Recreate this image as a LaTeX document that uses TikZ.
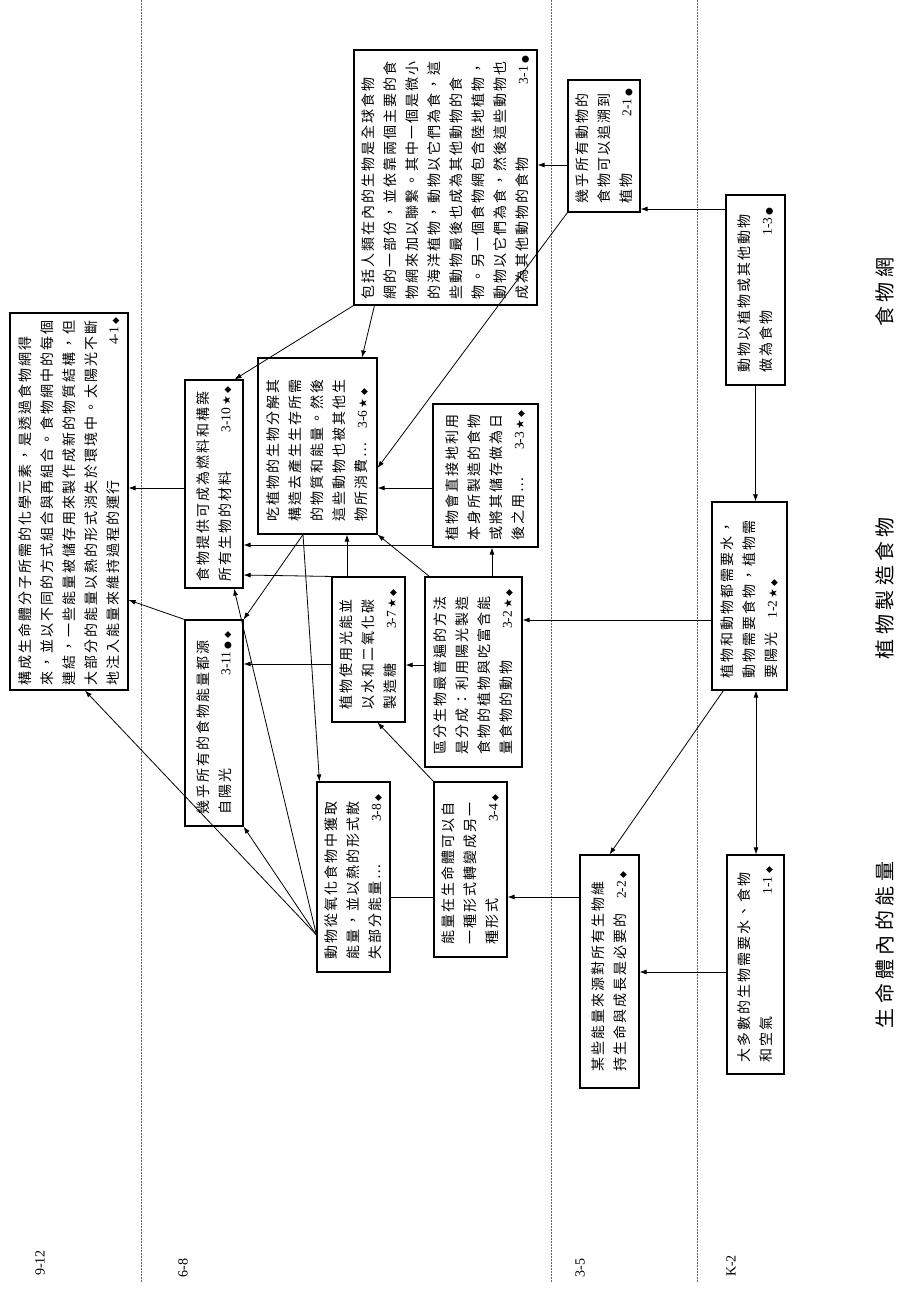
\documentclass[tikz,border=0pt]{standalone}
\usepackage{fontspec}
\setmainfont{Liberation Serif}
\newfontfamily\cjk[LetterSpace=14]{Noto Sans CJK TC}
\newfontfamily\cjkhead[LetterSpace=22]{Noto Sans CJK TC}
\newfontfamily\symfont{DejaVu Sans}
\usetikzlibrary{positioning, arrows.meta, calc}

% marks after each benchmark code
\newcommand{\symdia}{{\symfont\fontsize{9}{9}\selectfont ◆}}
\newcommand{\symstar}{{\symfont\fontsize{11}{11}\selectfont ★}}
\newcommand{\symdot}{{\symfont\fontsize{9}{9}\selectfont ●}}
\newcommand{\bmk}[1]{{\rmfamily\fontsize{13.5}{13.5}\selectfont #1}}
\newcommand{\vtext}[2]{\rotatebox{90}{\parbox{#1}{#2}}}

\begin{document}
\begin{tikzpicture}[
  x=1pt, y=-1pt,
  box/.style={draw, line width=1.1pt, inner sep=0pt,
    font=\cjk\fontsize{14}{22}\selectfont},
  arr/.style={line width=0.8pt, -{Latex[length=7pt,width=5pt]}},
  arrboth/.style={line width=0.8pt, {Latex[length=7pt,width=5pt]}-{Latex[length=7pt,width=5pt]}},
  link/.style={line width=0.8pt},
  band/.style={densely dotted, line width=0.5pt, black!60},
  grade/.style={rotate=90, font=\fontsize{14}{14}\selectfont},
  strand/.style={rotate=90, font=\cjkhead\fontsize{20}{20}\selectfont}
]
\useasboundingbox (0,0) rectangle (910,1289);

% grade bands
\draw[band] (141,0) -- (141,1282);
\draw[band] (551,0) -- (551,1282);
\draw[band] (697,0) -- (697,1282);
\node[grade] (g1) at (40,1263) {9-12};
\node[grade] (g2) at (183,1268) {6-8};
\node[grade] (g3) at (580,1268) {3-5};
\node[grade] (g4) at (731,1266) {K-2};

% strands
\node[strand] (s1) at (885,292) {食物網};
\node[strand] (s2) at (885,588) {植物製造食物};
\node[strand] (s3) at (885,945) {生命體內的能量};

% 9-12
\node[box, minimum width=118pt, minimum height=377pt] (n41) at (69,501.5) {\vtext{368pt}{構成生命體分子所需的化學元素，是透過食物網得\\來，並以不同的方式組合與再組合。食物網中的每個\\連結，一些能量被儲存用來製作成新的物質結構，但\\大部分的能量以熱的形式消失於環境中。太陽光不斷\\地注入能量來維持過程的運行\hfill\bmk{4-1}\,\symdia}};

% 6-8
\node[box, minimum width=58pt, minimum height=208pt] (n310) at (214,484) {\vtext{195pt}{食物提供可成為燃料和構築\\所有生物的材料\hfill\bmk{3-10}\,\symstar\,\symdia}};
\node[box, minimum width=58pt, minimum height=206pt] (n311) at (214,723) {\vtext{182pt}{幾乎所有的食物能量都源\\自陽光\hfill\bmk{3-11}\,\symdot\,\symdia}};
\node[box, minimum width=119pt, minimum height=176pt] (n36) at (317.5,446) {\vtext{150pt}{吃植物的生物分解其\\構造去產生生存所需\\的物質和能量。然後\\這些動物也被其他生\\物所消費…\quad\bmk{3-6}\,\symstar\,\symdia}};
\node[box, minimum width=73pt, minimum height=145pt] (n37) at (368.5,649.5) {\vtext{120pt}{植物使用光能並\\以水和二氧化碳\\製造糖\hfill\bmk{3-7}\,\symstar\,\symdia}};
\node[box, minimum width=73pt, minimum height=190pt] (n38) at (353.5,877) {\vtext{165pt}{動物從氧化食物中獲取\\能量，並以熱的形式散\\失部分能量…\hfill\bmk{3-8}\,\symdia}};
\node[box, minimum width=105pt, minimum height=143pt] (n33) at (485.5,475.5) {\vtext{130pt}{植物會直接地利用\\本身所製造的食物\\或將其儲存做為日\\後之用…\hfill\bmk{3-3}\,\symstar\,\symdia}};
\node[box, minimum width=97pt, minimum height=190pt] (n32) at (473.5,672) {\vtext{165pt}{區分生物最普遍的方法\\是分成：利用陽光製造\\食物的植物與吃富含能\\量食物的動物\hfill\bmk{3-2}\,\symstar\,\symdia}};
\node[box, minimum width=73pt, minimum height=175pt] (n34) at (470.5,869.5) {\vtext{150pt}{能量在生命體可以自\\一種形式轉變成另一\\種形式\hfill\bmk{3-4}\,\symdia}};
\node[box, minimum width=183pt, minimum height=255pt] (n31) at (445.5,177.5) {\vtext{243pt}{包括人類在內的生物是全球食物\\網的一部份，並依靠兩個主要的食\\物網來加以聯繫。其中一個是微小\\的海洋植物，動物以它們為食，這\\些動物最後也成為其他動物的食\\物。另一個食物網包含陸地植物，\\動物以它們為食，然後這些動物也\\成為其他動物的食物\hfill\bmk{3-1}\,\symdot}};

% 3-5
\node[box, minimum width=72pt, minimum height=132pt] (n21) at (604,146) {\vtext{115pt}{幾乎所有動物的\\食物可以追溯到\\植物\hfill\bmk{2-1}\,\symdot}};
\node[box, minimum width=59pt, minimum height=233pt] (n22) at (609.5,971.5) {\vtext{200pt}{某些能量來源對所有生物維\\持生命與成長是必要的\hfill\bmk{2-2}\,\symdia}};

% K-2
\node[box, minimum width=59pt, minimum height=190pt] (n13) at (755.5,290) {\vtext{165pt}{動物以植物或其他動物\\做為食物\hfill\bmk{1-3}\,\symdot}};
\node[box, minimum width=75pt, minimum height=188pt] (n12) at (749.5,596) {\vtext{165pt}{植物和動物都需要水，\\動物需要食物，植物需\\要陽光\quad\bmk{1-2}\,\symstar\,\symdia}};
\node[box, minimum width=57pt, minimum height=219pt] (n11) at (755.5,964.5) {\vtext{195pt}{大多數的生物需要水、食物\\和空氣\hfill\bmk{1-1}\,\symdia}};

% connectors
\draw[arr] (n13.west |- 0,209) -- (n21.east |- 0,209);
\draw[arr] (n13.south) -- (n13.south |- n12.north);
\draw[arr] (n12.west |- 0,620) -- (n32.east |- 0,620);
\draw[arr] ($(n12.south west)+(12,0)$) -- (n22.north);
\draw[arrboth] (n12.south -| 756,0) -- (n11.north -| 756,0);
\draw[arr] (n11.west |- 0,972) -- (n22.east |- 0,972);
\draw[arr] (n22.west |- 0,897) -- (n34.east |- 0,897);
\draw[link] (n34.west |- 0,897) -- (n38.east |- 0,897);
\draw[arr] (n34.north west) -- ($(n37.south)+(9,0)$);
\draw[arr] (n32.west |- 0,665) -- (n37.east |- 0,665);
\draw[arr] (n32.north -| 492,0) -- (n33.south -| 492,0);
\draw[arr] ($(n32.north west)+(5,0)$) -- (n36.south east);
\draw[arr] (n33.west |- 0,488) -- (n36.east |- 0,488);
\draw[arr] (n33.west |- 0,545) -- (n310.east |- 0,545);
\draw[arr] (n21.west |- 0,165) -- (n31.east |- 0,165);
\draw[arr] (n21.south west) -- (n36.east |- 0,468);
\draw[arr] ($(n31.south west)+(21,0)$) -- (n36.north -| 362,0);
\draw[arr] (n31.south west) -- ($(n310.north east)+(-9,0)$);
\draw[arr] (n37.north -| 347,0) -- (n36.south -| 347,0);
\draw[arr] (n37.north west) -- (n310.east |- 0,575);
\draw[arr] (n37.west |- 0,664) -- (n311.east |- 0,664);
\draw[arr] (n36.south -| 303,0) -- (n311.north east);
\draw[arr] (n36.south -| 303,0) -- ($(n38.north west)+(3,0)$);
\draw[arr] (n310.west |- 0,488) -- (n41.east |- 0,488);
\draw[arr] (n311.north west) -- (n41.east |- 0,600);
\draw[arr] (n38.west |- 0,935) -- (n41.south -| 85,0);
\draw[arr] (n38.west |- 0,935) -- (n311.south east);
\draw[arr] (n38.west |- 0,935) -- ($(n310.south)+(20,0)$);
\end{tikzpicture}
\end{document}
